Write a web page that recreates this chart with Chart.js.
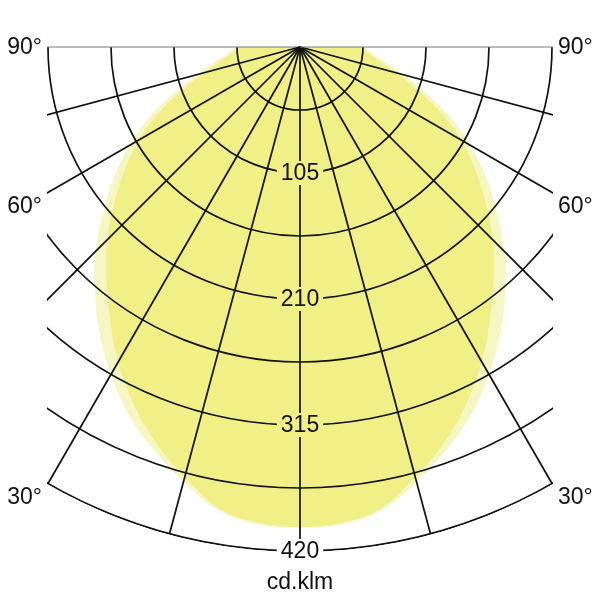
<!DOCTYPE html>
<html>
<head>
<meta charset="utf-8">
<script src="https://cdn.jsdelivr.net/npm/chart.js@4"></script>
<style>
  html, body { margin: 0; background: #fff; }
  #wrap { width: 600px; height: 600px; }
</style>
</head>
<body>
<div id="wrap"><canvas id="chart"></canvas></div>
<script>
// gamma angles (deg from nadir) and luminous intensity (cd/klm)
const gammaDeg = [0, 5, 10, 15, 20, 25, 30, 35, 40, 45, 50, 55, 60, 65, 70, 75, 80, 85, 90]
const mainCd   = [400, 398, 390, 371, 351, 328, 303, 276, 251, 227, 202, 178, 155, 130, 104, 83, 67, 57, 50]
const haloCd   = [400, 399, 392, 375, 357, 338, 315, 291, 266, 241, 214, 189, 164, 138, 111, 89, 72, 60, 53]

const ringValues = [52.5, 105, 157.5, 210, 262.5, 315, 367.5, 420]
const ringLabels = ['105', '210', '315', '420']
const rayAngles = [-90, -75, -60, -45, -30, -15, 0, 15, 30, 45, 60, 75, 90]
const angleLabels = ['90°', '60°', '30°']
const angleLabelPos = [90, 60, 30]
const unitLabel = 'cd.klm'

const FONT = '23px "Liberation Sans", Arial, sans-serif'
const rad = d => d * Math.PI / 180

// polar -> cartesian, left half then right half
function curve(values) {
    let pts = []
    for (let i = gammaDeg.length - 1; i >= 0; i--) {
        let g = rad(gammaDeg[i])
        pts.push({ x: -values[i] * Math.sin(g), y: -values[i] * Math.cos(g) })
    }
    for (let i = 1; i < gammaDeg.length; i++) {
        let g = rad(gammaDeg[i])
        pts.push({ x: values[i] * Math.sin(g), y: -values[i] * Math.cos(g) })
    }
    return pts
}

const polarGrid = {
    id: 'polarGrid',
    afterDatasetsDraw(chart) {
        const { ctx, chartArea: a, scales: { x, y } } = chart
        const cx = x.getPixelForValue(0)
        const cy = y.getPixelForValue(0)
        const px = v => y.getPixelForValue(-v) - cy
        const rMax = ringValues[ringValues.length - 1]
        const R = px(rMax)

        ctx.save()
        ctx.font = FONT
        ctx.beginPath()
        ctx.rect(a.left - 1, a.top - 2, a.right - a.left + 2, a.bottom - a.top + 4)
        ctx.clip()
        ctx.beginPath()
        ctx.arc(cx, cy, R + 1, 0, Math.PI * 2)
        ctx.clip()
        // gaps behind ring labels
        ctx.beginPath()
        ctx.rect(0, 0, chart.width, chart.height)
        for (let t of ringLabels) {
            let w = ctx.measureText(t).width
            let yy = y.getPixelForValue(-Number(t))
            ctx.rect(cx - w / 2 - 4, yy - 12, w + 8, 24)
        }
        ctx.clip('evenodd')

        ctx.strokeStyle = '#111'
        ctx.lineWidth = 1.7
        for (let v of ringValues) {
            ctx.beginPath()
            ctx.arc(cx, cy, px(v), 0, Math.PI)
            ctx.stroke()
        }
        for (let ang of rayAngles) {
            ctx.beginPath()
            ctx.strokeStyle = Math.abs(ang) === 90 ? '#777' : '#111'
            ctx.lineWidth = Math.abs(ang) === 90 ? 1 : 1.7
            ctx.moveTo(cx, cy)
            ctx.lineTo(cx + R * Math.sin(rad(ang)), cy + R * Math.cos(rad(ang)))
            ctx.stroke()
        }
        ctx.restore()

        ctx.save()
        ctx.font = FONT
        ctx.fillStyle = '#111'
        ctx.textBaseline = 'middle'
        ctx.textAlign = 'center'
        for (let t of ringLabels) {
            ctx.fillText(t, cx, y.getPixelForValue(-Number(t)) + 1)
        }
        ctx.fillText(unitLabel, cx, 583)

        angleLabels.forEach((t, i) => {
            let g = rad(angleLabelPos[i])
            let half = x.max
            let r = Math.min(rMax, half / Math.sin(g))
            let yy = y.getPixelForValue(-r * Math.cos(g)) + (angleLabelPos[i] < 90 ? 14 : 1)
            ctx.textAlign = 'right'
            ctx.fillText(t, a.left - 6, yy)
            ctx.textAlign = 'left'
            ctx.fillText(t, a.right + 6, yy)
        })
        ctx.restore()
    }
}

const ctx = document.getElementById('chart').getContext('2d')

const chart = new Chart(ctx, {
    type: 'scatter',
    data: {
        datasets: [{
            label: 'C0-C180',
            data: curve(mainCd),
            showLine: true,
            fill: 'shape',
            tension: 0.4,
            borderWidth: 0,
            pointRadius: 0,
            backgroundColor: '#f0f086',
            borderColor: '#f0f086',
        }, {
            label: 'C90-C270',
            data: curve(haloCd),
            showLine: true,
            fill: 'shape',
            tension: 0.4,
            borderWidth: 0,
            pointRadius: 0,
            backgroundColor: '#f6f6c2',
            borderColor: '#f6f6c2',
        }]
    },
    options: {
        responsive: true,
        maintainAspectRatio: false,
        animation: false,
        layout: { padding: { left: 48, right: 48, top: 47, bottom: 49 } },
        plugins: { legend: { display: false }, tooltip: { enabled: false } },
        scales: {
            x: { type: 'linear', min: -210, max: 210, display: false },
            y: { type: 'linear', min: -420, max: 0, display: false }
        }
    },
    plugins: [polarGrid]
})
</script>
</body>
</html>
